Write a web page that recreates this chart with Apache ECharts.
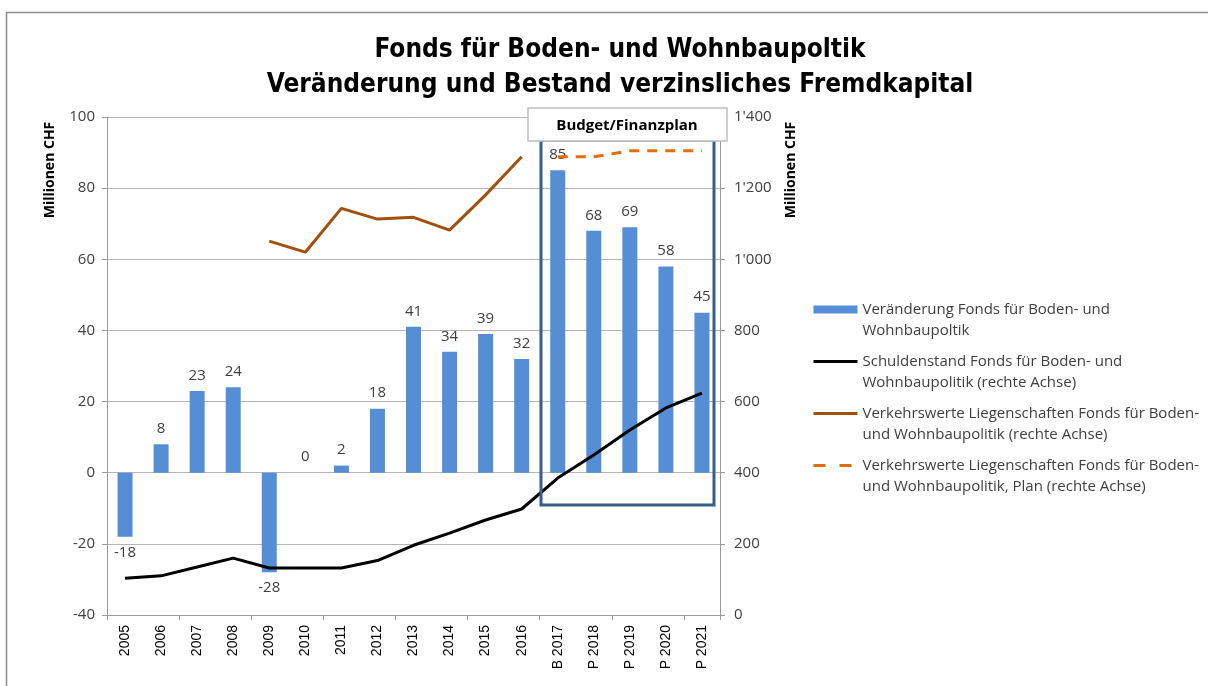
<!DOCTYPE html>
<html>
<head>
<meta charset="utf-8">
<script src="https://cdn.jsdelivr.net/npm/echarts@6/dist/echarts.min.js"></script>
<style>
  html, body { margin: 0; padding: 0; background: #fff; }
  #chart { width: 1208px; height: 686px; }
</style>
</head>
<body>
<div id="chart"></div>
<script>
// Kategorien (Jahre, B = Budget, P = Plan)
const years = ['2005', '2006', '2007', '2008', '2009', '2010', '2011', '2012', '2013',
  '2014', '2015', '2016', 'B 2017', 'P 2018', 'P 2019', 'P 2020', 'P 2021']

// Veränderung Fonds (linke Achse, Mio. CHF)
const veraenderung = [-18, 8, 23, 24, -28, 0, 2, 18, 41, 34, 39, 32, 85, 68, 69, 58, 45]

// Schuldenstand (rechte Achse)
const schuldenstand = [103, 110, 135, 160, 132, 132, 132, 153, 196, 230, 267, 298, 385, 450, 520, 582, 624]

// Verkehrswerte Liegenschaften (rechte Achse), Ist und Plan
const verkehrswerte = [null, null, null, null, 1051, 1020, 1143, 1113, 1118, 1082, 1181, 1288,
  null, null, null, null, null]
const verkehrswertePlan = [null, null, null, null, null, null, null, null, null, null, null, null,
  1288, 1288, 1305, 1305, 1305]

const leftTicks = { min: -40, max: 100, interval: 20 }
const rightTicks = { min: 0, max: 1400, interval: 200 }

const FONT = 'Liberation Sans Narrow, DejaVu Sans Condensed, Open Sans, sans-serif'
const BODY = 'Open Sans, Liberation Sans, sans-serif'
const TXT = '#404040'

// Formatierung mit Apostroph als Tausendertrenner
const fmtCH = v => String(v).replace(/\B(?=(\d{3})+(?!\d))/g, "'")

const chart = echarts.init(document.getElementById('chart'))

const barData = veraenderung.map(v => ({
  value: v,
  label: { position: v < 0 ? 'bottom' : 'top' }
}))

// Legendensymbol der Linien ohne Punkt
const noDot = { opacity: 0 }

chart.setOption({
  animation: false,
  title: {
    text: 'Fonds für Boden- und Wohnbaupoltik\nVeränderung und Bestand verzinsliches Fremdkapital',
    left: 615,
    top: 28,
    textAlign: 'center',
    textStyle: { fontFamily: FONT, fontWeight: 'bold', fontSize: 26, lineHeight: 35, color: '#000' }
  },
  grid: { left: 107, right: 488, top: 117, bottom: 71 },
  legend: {
    orient: 'vertical',
    left: 807,
    top: 273,
    itemWidth: 44,
    itemHeight: 8,
    itemGap: -11,
    // leere erste Zeile, damit das Symbol auf Höhe der ersten Textzeile steht
    formatter: name => '\n' + name,
    textStyle: { fontFamily: BODY, fontSize: 15, lineHeight: 21, color: TXT },
    data: [
      { name: 'Veränderung Fonds für Boden- und\nWohnbaupoltik', icon: 'rect' },
      { name: 'Schuldenstand Fonds für Boden- und\nWohnbaupolitik (rechte Achse)', itemStyle: noDot,
        lineStyle: { width: 3 } },
      { name: 'Verkehrswerte Liegenschaften Fonds für Boden-\nund Wohnbaupolitik (rechte Achse)', itemStyle: noDot,
        lineStyle: { width: 3 } },
      { name: 'Verkehrswerte Liegenschaften Fonds für Boden-\nund Wohnbaupolitik, Plan (rechte Achse)', itemStyle: noDot,
        lineStyle: { width: 3, type: [12, 14] } }
    ]
  },
  xAxis: [
    {
      type: 'category',
      data: years,
      position: 'bottom',
      axisLine: { show: false },
      axisTick: { show: false },
      axisLabel: { rotate: 90, fontFamily: 'Liberation Sans, Arial, sans-serif', fontSize: 14, color: '#000', margin: 10 }
    },
    {
      type: 'category',
      data: years,
      position: 'top',
      axisLine: { onZero: true, lineStyle: { color: '#9a9a9a', width: 1 } },
      axisTick: { show: true, inside: true, length: 5, lineStyle: { color: '#9a9a9a' } },
      axisLabel: { show: false }
    }
  ],
  yAxis: [
    {
      type: 'value',
      min: leftTicks.min,
      max: leftTicks.max,
      interval: leftTicks.interval,
      axisLine: { show: true, lineStyle: { color: '#9a9a9a' } },
      axisTick: { show: true, length: 5, lineStyle: { color: '#9a9a9a' } },
      axisLabel: { fontFamily: BODY, fontSize: 15, color: TXT, margin: 12 },
      splitLine: { lineStyle: { color: '#b4b4b4', width: 1 } }
    },
    {
      type: 'value',
      min: rightTicks.min,
      max: rightTicks.max,
      interval: rightTicks.interval,
      position: 'right',
      axisLine: { show: true, lineStyle: { color: '#9a9a9a' } },
      axisTick: { show: true, length: 5, lineStyle: { color: '#9a9a9a' } },
      axisLabel: { fontFamily: BODY, fontSize: 15, color: TXT, margin: 14, formatter: fmtCH },
      splitLine: { show: false }
    }
  ],
  graphic: [
    // Rahmen des Diagrammbereichs
    { type: 'rect', left: 4, top: 10, shape: { width: 1230, height: 700 },
      style: { fill: 'none', stroke: '#8c8c8c', lineWidth: 1.5 }, silent: true },
    { type: 'text', x: 50, y: 170, rotation: Math.PI / 2,
      style: { text: 'Millionen CHF', fontFamily: BODY, fontWeight: 'bold', fontSize: 14, fill: '#000',
        align: 'center', verticalAlign: 'middle' } },
    { type: 'text', x: 791, y: 170, rotation: Math.PI / 2,
      style: { text: 'Millionen CHF', fontFamily: BODY, fontWeight: 'bold', fontSize: 14, fill: '#000',
        align: 'center', verticalAlign: 'middle' } },
    // Budget/Finanzplan Markierung
    { type: 'rect', x: 541, y: 140, shape: { width: 173, height: 365 },
      style: { fill: 'none', stroke: '#385D8A', lineWidth: 3 }, z: 10 },
    { type: 'rect', x: 528, y: 108, shape: { width: 199, height: 33 },
      style: { fill: '#fff', stroke: '#bfbfbf', lineWidth: 1.5 }, z: 11 },
    { type: 'text', x: 627, y: 126, z: 12,
      style: { text: 'Budget/Finanzplan', fontFamily: BODY, fontWeight: 'bold', fontSize: 15, fill: '#000',
        align: 'center', verticalAlign: 'middle' } }
  ],
  series: [
    {
      name: 'Veränderung Fonds für Boden- und\nWohnbaupoltik',
      type: 'bar',
      data: barData,
      barWidth: 15,
      itemStyle: { color: '#558ED5' },
      label: { show: true, fontFamily: BODY, fontSize: 15, color: TXT, distance: 8 }
    },
    {
      name: 'Schuldenstand Fonds für Boden- und\nWohnbaupolitik (rechte Achse)',
      type: 'line',
      yAxisIndex: 1,
      data: schuldenstand,
      symbol: 'none',
      lineStyle: { color: '#000', width: 3 },
      itemStyle: { color: '#000' }
    },
    {
      name: 'Verkehrswerte Liegenschaften Fonds für Boden-\nund Wohnbaupolitik (rechte Achse)',
      type: 'line',
      yAxisIndex: 1,
      data: verkehrswerte,
      symbol: 'none',
      lineStyle: { color: '#A3500E', width: 3 },
      itemStyle: { color: '#A3500E' }
    },
    {
      name: 'Verkehrswerte Liegenschaften Fonds für Boden-\nund Wohnbaupolitik, Plan (rechte Achse)',
      type: 'line',
      yAxisIndex: 1,
      data: verkehrswertePlan,
      symbol: 'none',
      lineStyle: { color: '#E46C0A', width: 3, type: [10, 8] },
      itemStyle: { color: '#E46C0A' }
    }
  ]
})
</script>
</body>
</html>
